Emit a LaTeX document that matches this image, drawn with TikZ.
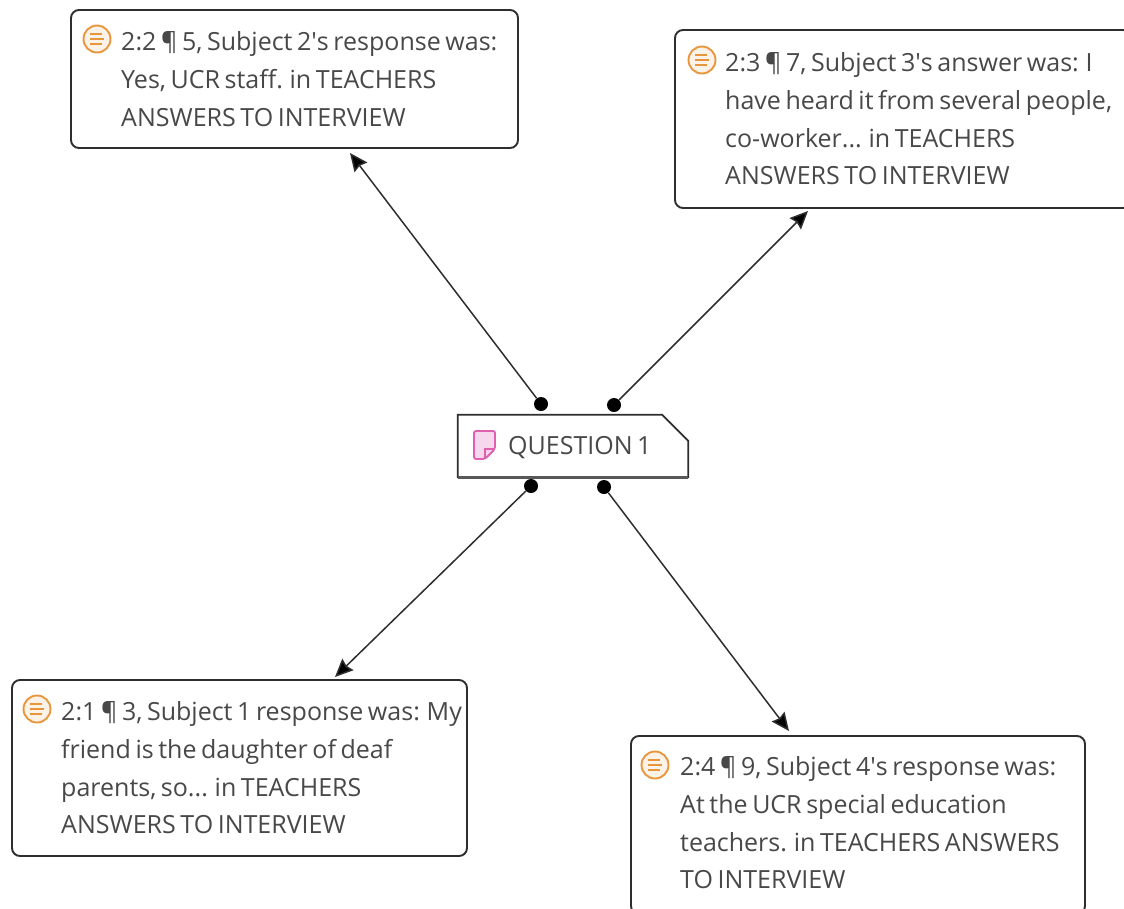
\documentclass[tikz,border=0pt]{standalone}
\usepackage{fontspec}
\setmainfont{Open Sans}
\usetikzlibrary{arrows.meta}
\definecolor{txtgray}{HTML}{484848}
\definecolor{boxgray}{HTML}{2E2E2E}
\definecolor{docorange}{HTML}{E8963C}
\definecolor{memopink}{HTML}{E060B0}
\newcommand{\ap}{\textquotesingle}
\newcommand{\quotefont}{\fontsize{25}{37.7}\selectfont\spaceskip 4.6pt\relax}
\tikzset{
    quote/.style={draw=boxgray, line width=1.9pt, rounded corners=8pt, fill=white, inner sep=0pt},
    quotetext/.style={anchor=west, align=left, inner sep=0pt, text=txtgray, font=\quotefont},
    memo/.style={inner sep=0pt, minimum width=230pt, minimum height=62pt},
    dot/.style={circle, fill=black, inner sep=0pt, minimum size=14pt},
    link/.style={draw=boxgray, line width=1.5pt, -{Stealth[length=18pt,width=16pt,inset=2pt,fill=black]}},
    docicon/.pic={
        \draw[docorange, line width=1.9pt, fill=docorange!12] (0,0) circle (13.5);
        \draw[docorange, line width=1.7pt] (-7,-5) -- (5,-5) (-7,0) -- (7,0) (-7,5) -- (5,5);
    }
}
\begin{document}
\begin{tikzpicture}[x=1pt,y=-1pt]
    \useasboundingbox (0,0) rectangle (1124,908);
    \clip (0,0) rectangle (1124,908);
    % quotations
    \node[quote, minimum width=447pt, minimum height=138pt] (q2) at (294.5,79) {};
    \node[quote, minimum width=456pt, minimum height=178pt] (q3) at (903,119) {};
    \node[quote, minimum width=455pt, minimum height=176pt] (q1) at (239.5,768) {};
    \node[quote, minimum width=454pt, minimum height=178pt] (q4) at (858,825) {};
    \node[quotetext] (t2) at (121,79) {2:2 ¶ 5, Subject 2\ap s response was:\\Yes, UCR staff. in TEACHERS\\ANSWERS TO INTERVIEW};
    \node[quotetext] (t3) at (725,119) {2:3 ¶ 7, Subject 3\ap s answer was: I\\have heard it from several people,\\co-worker... in TEACHERS\\ANSWERS TO INTERVIEW};
    \node[quotetext] (t1) at (61,768) {2:1 ¶ 3, Subject 1 response was: My\\friend is the daughter of deaf\\parents, so... in TEACHERS\\ANSWERS TO INTERVIEW};
    \node[quotetext] (t4) at (680,823) {2:4 ¶ 9, Subject 4\ap s response was:\\At the UCR special education\\teachers. in TEACHERS ANSWERS\\TO INTERVIEW};
    \pic at (97,39) {docicon};
    \pic at (702,60) {docicon};
    \pic at (37,709) {docicon};
    \pic at (655,765) {docicon};
    % memo in the middle
    \node[memo] (m) at (573,446) {};
    \draw[boxgray, line width=1.7pt, fill=white] (m.south west) -- (m.north west) -- ([xshift=-26pt]m.north east)
        -- ([yshift=-26pt]m.north east) -- (m.south east) -- cycle;
    \draw[boxgray!80, line width=3.2pt] (m.south west) -- (m.south east);
    \node[quotetext] (mt) at (508,448) {QUESTION 1};
    \draw[memopink, line width=1.8pt, fill=memopink!25, rounded corners=2pt]
        (474,431) -- (495,431) -- (495,449) -- (485,459) -- (474,459) -- cycle;
    \draw[memopink, line width=1.3pt] (495,449) -- (485,449) -- (485,459);
    % connectors
    \node[dot] (d2) at (541,404) {};
    \node[dot] (d3) at (614,405) {};
    \node[dot] (d1) at (531,486) {};
    \node[dot] (d4) at (604,487) {};
    \coordinate (a2) at (350,153);
    \coordinate (a3) at (808,211);
    \coordinate (a1) at (335,677);
    \coordinate (a4) at (789,731);
    \draw[link] (d2) -- (a2);
    \draw[link] (d3) -- (a3);
    \draw[link] (d1) -- (a1);
    \draw[link] (d4) -- (a4);
\end{tikzpicture}
\end{document}
